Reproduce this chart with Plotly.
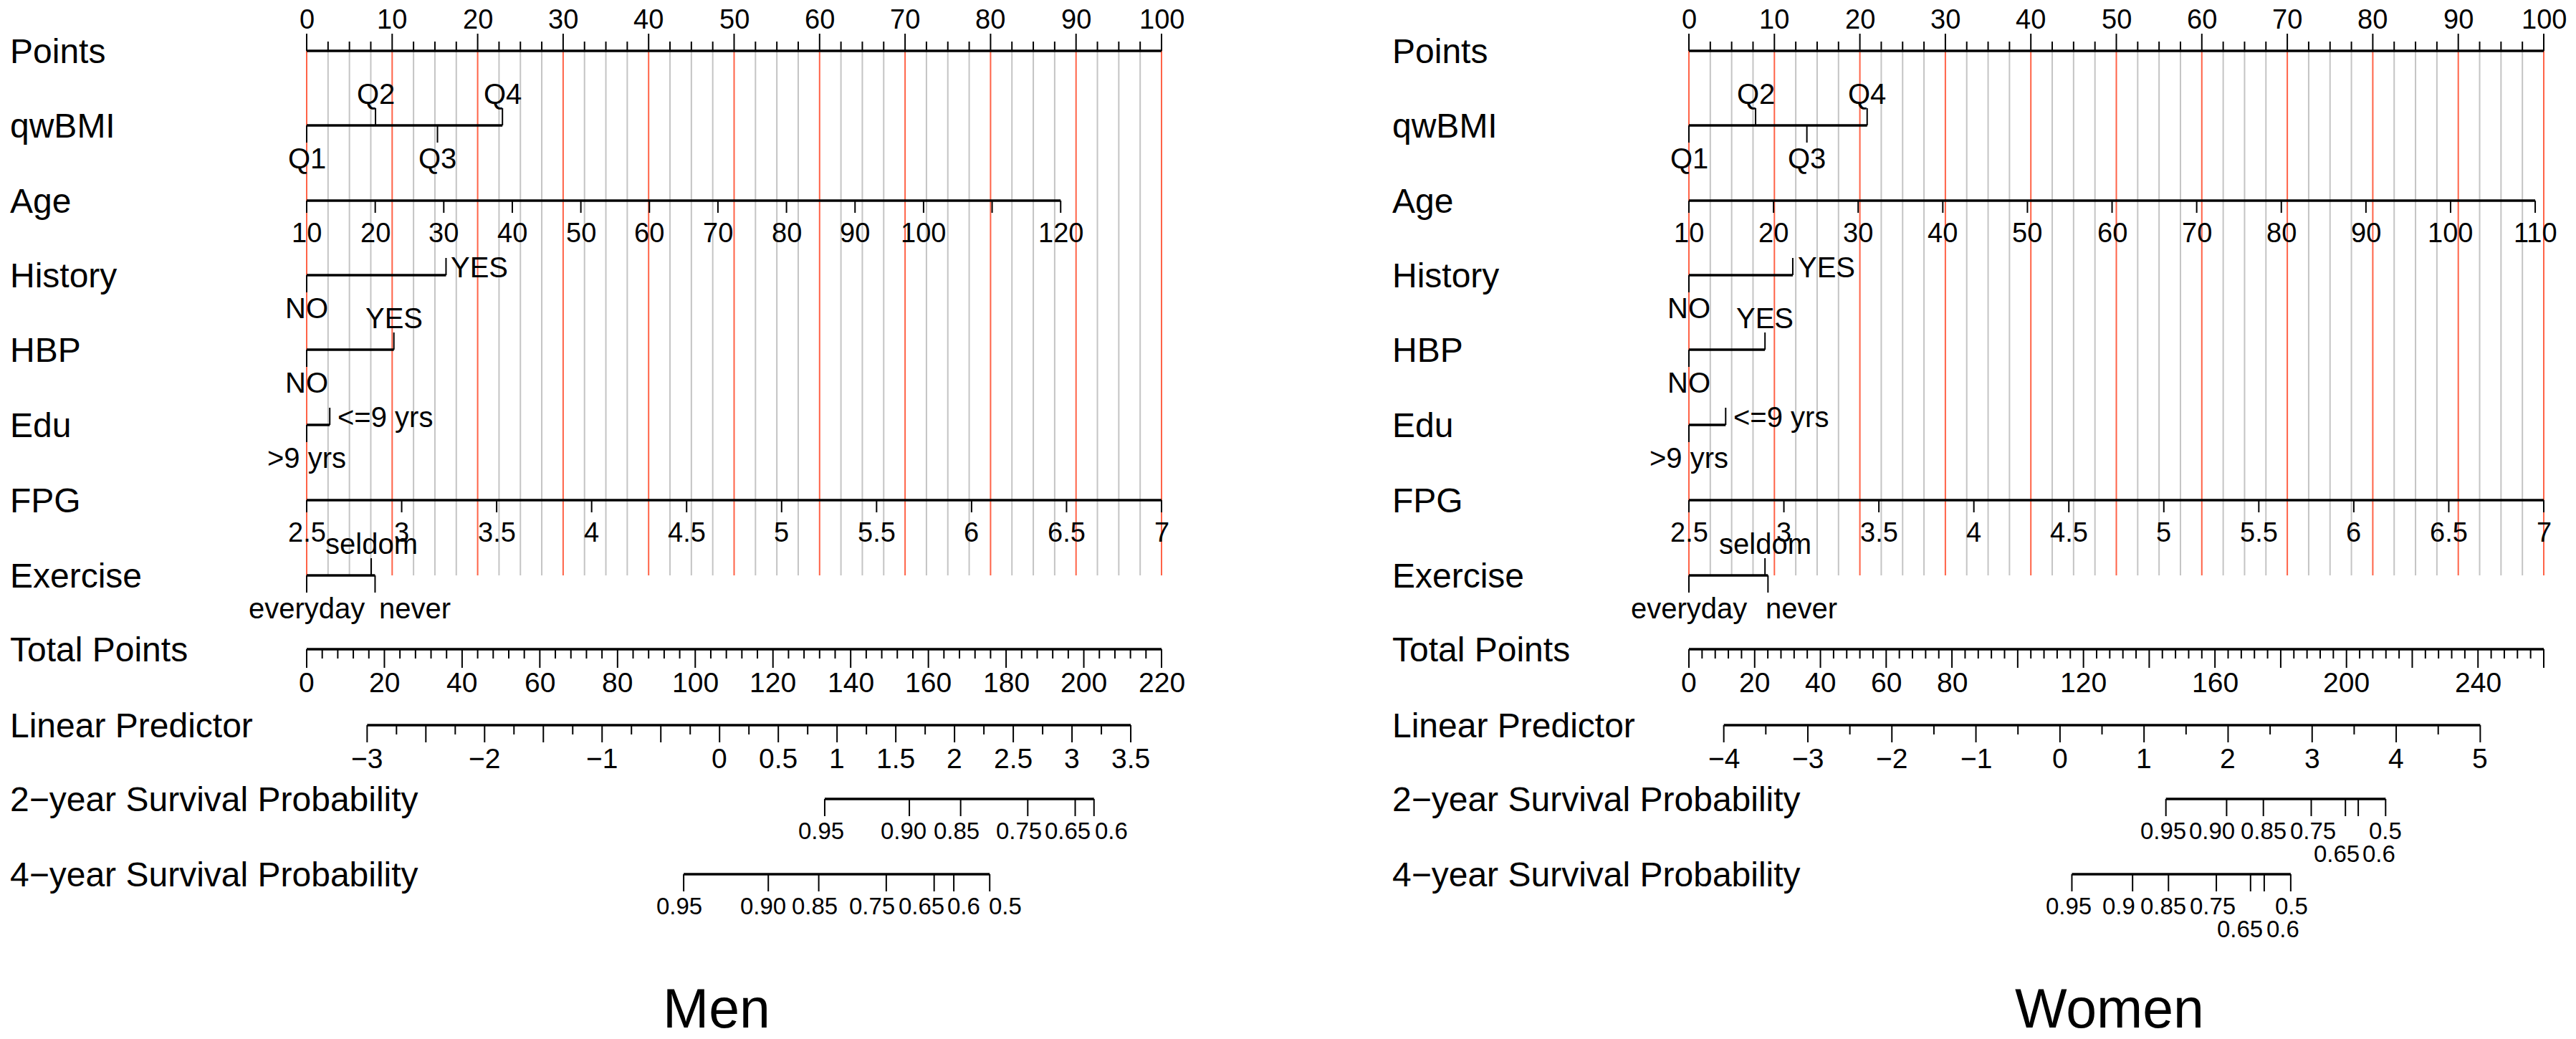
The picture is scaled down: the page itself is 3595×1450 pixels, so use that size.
import plotly.graph_objects as go

# ---------------- values ----------------
points_labels = [0, 10, 20, 30, 40, 50, 60, 70, 80, 90, 100]

fpg_ticks = [2.5, 3, 3.5, 4, 4.5, 5, 5.5, 6, 6.5, 7]
fpg_labels = ["2.5", "3", "3.5", "4", "4.5", "5", "5.5", "6", "6.5", "7"]

# Men
men_qwbmi_levels = ["Q1", "Q2", "Q3", "Q4"]
men_qwbmi_points = [0, 8.05, 15.3, 22.9]
men_age_ticks = [10, 20, 30, 40, 50, 60, 70, 80, 90, 100, 110, 120]
men_age_labels = ["10", "20", "30", "40", "50", "60", "70", "80", "90", "100", "", "120"]
men_age_points = [0, 88.2]          # points at youngest / oldest tick
men_history_levels = ["NO", "YES"]
men_history_points = [0, 16.3]
men_hbp_levels = ["NO", "YES"]
men_hbp_points = [0, 10.2]
men_edu_levels = [">9 yrs", "<=9 yrs"]
men_edu_points = [0, 2.7]
men_fpg_points = [0, 100]
men_exercise_levels = ["everyday", "seldom", "never"]
men_exercise_points = [0, 7.55, 8.0]
men_total_max = 220
men_total_labels = [0, 20, 40, 60, 80, 100, 120, 140, 160, 180, 200, 220]
men_lp_ticks = [-3, -2.5, -2, -1.5, -1, -0.5, 0, 0.5, 1, 1.5, 2, 2.5, 3, 3.5]
men_lp_labels = ["−3", "", "−2", "", "−1", "", "0", "0.5", "1", "1.5", "2", "2.5", "3", "3.5"]
men_lp_minor = 0.25
men_lp_points = [7.07, 96.4]        # points at first / last LP tick
men_surv2_labels = ["0.95", "0.90", "0.85", "0.75", "0.65", "0.6"]
men_surv2_points = [60.6, 70.5, 76.5, 84.35, 89.9, 92.1]
men_surv4_labels = ["0.95", "0.90", "0.85", "0.75", "0.65", "0.6", "0.5"]
men_surv4_points = [44.1, 54.0, 59.9, 67.8, 73.4, 75.7, 79.9]

# Women
women_qwbmi_levels = ["Q1", "Q2", "Q3", "Q4"]
women_qwbmi_points = [0, 7.8, 13.8, 20.85]
women_age_ticks = [10, 20, 30, 40, 50, 60, 70, 80, 90, 100, 110]
women_age_labels = ["10", "20", "30", "40", "50", "60", "70", "80", "90", "100", "110"]
women_age_points = [0, 99.0]
women_history_levels = ["NO", "YES"]
women_history_points = [0, 12.15]
women_hbp_levels = ["NO", "YES"]
women_hbp_points = [0, 8.9]
women_edu_levels = [">9 yrs", "<=9 yrs"]
women_edu_points = [0, 4.3]
women_fpg_points = [0, 100]
women_exercise_levels = ["everyday", "seldom", "never"]
women_exercise_points = [0, 8.9, 9.25]
women_total_max = 260
women_total_labels = [0, 20, 40, 60, 80, 120, 160, 200, 240]
women_lp_ticks = [-4, -3, -2, -1, 0, 1, 2, 3, 4, 5]
women_lp_labels = ["−4", "−3", "−2", "−1", "0", "1", "2", "3", "4", "5"]
women_lp_minor = 0.5
women_lp_points = [4.08, 92.57]
women_surv2_labels = ["0.95", "0.90", "0.85", "0.75", "0.65", "0.6", "0.5"]
women_surv2_points = [55.8, 62.9, 67.2, 72.8, 76.8, 78.3, 81.5]
women_surv4_labels = ["0.95", "0.9", "0.85", "0.75", "0.65", "0.6", "0.5"]
women_surv4_points = [44.8, 51.9, 56.1, 61.7, 65.7, 67.3, 70.4]

row_names = ["Points", "qwBMI", "Age", "History", "HBP", "Edu", "FPG", "Exercise",
             "Total Points", "Linear Predictor", "2−year Survival Probability",
             "4−year Survival Probability"]

# ---------------- layout (screen pixels) ----------------
W, H = 3595, 1450
ROW_Y = [71, 175, 280, 384, 488, 593, 698, 803, 906, 1012, 1115, 1220]
PX_PER_PT = 11.93
ZERO_PX = {"x": 428, "x2": 2357}
LABEL_PX = {"x": 12, "x2": 1941}
TITLE_PX = {"x": 1000, "x2": 2944}
FONT = "Liberation Sans, Arial, Helvetica, sans-serif"
RED = "#ff6347"
GREY = "#c4c4c4"

# where R spread out the crowded labels (points units) and which ones sit on a 2nd line
SURV_LABEL_AT = {
    "x": ([60.2, 69.8, 76.0, 83.3, 89.0, 94.1],
          [43.6, 53.4, 59.4, 66.1, 71.9, 76.9, 81.7]),
    "x2": ([55.5, 61.2, 67.2, 73.0, 75.8, 80.7, 81.5],
           [44.4, 50.3, 55.5, 61.3, 64.5, 69.5, 70.5]),
}
SURV_LOW = {"x": [], "x2": ["0.65", "0.6"]}
NEVER_SHIFT = {"x": 4, "x2": -5}

fig = go.Figure()
annotations = []


def text(ax, x, y, s, size, anchor="center", xshift=0):
    annotations.append(dict(x=x, y=y, xref=ax, yref="y", text=s, showarrow=False,
                            xanchor=anchor, yanchor="middle", xshift=xshift,
                            font=dict(family=FONT, size=size, color="black")))


def esc(s):
    return s.replace("<", "&lt;").replace(">", "&gt;")


def draw_panel(ax, title, d):
    main_x, main_y = [], []
    tick_x, tick_y = [], []
    red_x, red_y, grey_x, grey_y = [], [], [], []

    def seg(xs, ys, x0, y0, x1, y1):
        xs.extend([x0, x1, None])
        ys.extend([y0, y1, None])

    # grid between Points and Exercise rows
    for k in range(41):
        p = k * 2.5
        if k % 4 == 0:
            seg(red_x, red_y, p, ROW_Y[0], p, ROW_Y[7])
        else:
            seg(grey_x, grey_y, p, ROW_Y[0], p, ROW_Y[7])

    # Points
    y = ROW_Y[0]
    seg(main_x, main_y, 0, y, 100, y)
    for k in range(41):
        p = k * 2.5
        seg(tick_x, tick_y, p, y, p, y - (24 if k % 4 == 0 else 13))
    for v in points_labels:
        text(ax, v, y - 44, str(v), 38)

    # categorical rows
    def categorical(row, levels, pts, special):
        y = ROW_Y[row]
        seg(main_x, main_y, min(pts), y, max(pts), y)
        order = sorted(range(len(pts)), key=lambda i: pts[i])
        for n, i in enumerate(order):
            up = n % 2 == 1
            seg(tick_x, tick_y, pts[i], y, pts[i], y - 24 if up else y + 24)
            lab = levels[i]
            if lab in special:
                dy, shift = special[lab]
                text(ax, pts[i], y + dy, esc(lab), 40, "left", shift)
            else:
                text(ax, pts[i], y - 44 if up else y + 46, esc(lab), 40)

    categorical(1, d["qwbmi_levels"], d["qwbmi_points"], {})
    categorical(3, d["history_levels"], d["history_points"], {"YES": (-11, 5)})
    categorical(4, d["hbp_levels"], d["hbp_points"], {})
    categorical(5, d["edu_levels"], d["edu_points"], {"<=9 yrs": (-11, 9)})
    categorical(7, d["exercise_levels"], d["exercise_points"], {"never": (46, NEVER_SHIFT[ax])})

    # continuous rows
    def continuous(row, ticks, labels, p0, p1, tlen, size, off):
        y = ROW_Y[row]
        t0, t1 = ticks[0], ticks[-1]
        seg(main_x, main_y, p0, y, p1, y)
        for t, lab in zip(ticks, labels):
            p = p0 + (t - t0) / (t1 - t0) * (p1 - p0)
            seg(tick_x, tick_y, p, y, p, y + tlen)
            if lab:
                text(ax, p, y + off, lab, size)

    a0, a1 = d["age_points"]
    continuous(2, d["age_ticks"], d["age_labels"], a0, a1, 17, 38, 45)
    f0, f1 = d["fpg_points"]
    continuous(6, fpg_ticks, fpg_labels, f0, f1, 17, 38, 45)

    # Total Points
    y = ROW_Y[8]
    tmax = d["total_max"]
    seg(main_x, main_y, 0, y, 100, y)
    for v in range(0, tmax + 1, 4):
        p = v / tmax * 100
        seg(tick_x, tick_y, p, y, p, y + (26 if v % 20 == 0 else 13))
    for v in d["total_labels"]:
        text(ax, v / tmax * 100, y + 46, str(v), 39)

    # Linear predictor
    y = ROW_Y[9]
    lp = d["lp_ticks"]
    l0, l1 = d["lp_points"]
    scale = (l1 - l0) / (lp[-1] - lp[0])
    seg(main_x, main_y, l0, y, l1, y)
    n_minor = int(round((lp[-1] - lp[0]) / d["lp_minor"]))
    for k in range(n_minor + 1):
        v = lp[0] + k * d["lp_minor"]
        p = l0 + (v - lp[0]) * scale
        major = any(abs(v - t) < 1e-9 for t in lp)
        seg(tick_x, tick_y, p, y, p, y + (24 if major else 13))
    for t, lab in zip(lp, d["lp_labels"]):
        if lab:
            text(ax, l0 + (t - lp[0]) * scale, y + 46, lab, 39)

    # survival rows
    for j, (row, labs, pts) in enumerate([(10, d["s2_labels"], d["s2_points"]),
                                          (11, d["s4_labels"], d["s4_points"])]):
        y = ROW_Y[row]
        seg(main_x, main_y, min(pts), y, max(pts), y)
        for lab, p, lx in zip(labs, pts, SURV_LABEL_AT[ax][j]):
            seg(tick_x, tick_y, p, y, p, y + 24)
            text(ax, lx, y + (76 if lab in SURV_LOW[ax] else 44), lab, 33)

    # row names and title
    for name, y in zip(row_names, ROW_Y):
        annotations.append(dict(x=LABEL_PX[ax] / W, y=y, xref="paper", yref="y",
                                text=name, showarrow=False, xanchor="left", yanchor="middle",
                                font=dict(family=FONT, size=48, color="black")))
    annotations.append(dict(x=TITLE_PX[ax] / W, y=1407, xref="paper", yref="y",
                            text=title, showarrow=False, xanchor="center", yanchor="middle",
                            font=dict(family=FONT, size=77, color="black")))

    for xs, ys, col, w in [(grey_x, grey_y, GREY, 2), (red_x, red_y, RED, 2),
                           (tick_x, tick_y, "black", 2), (main_x, main_y, "black", 3.3)]:
        fig.add_trace(go.Scatter(x=xs, y=ys, mode="lines", xaxis=ax, yaxis="y",
                                 line=dict(color=col, width=w), hoverinfo="skip",
                                 showlegend=False))


men = dict(qwbmi_levels=men_qwbmi_levels, qwbmi_points=men_qwbmi_points,
           age_ticks=men_age_ticks, age_labels=men_age_labels, age_points=men_age_points,
           history_levels=men_history_levels, history_points=men_history_points,
           hbp_levels=men_hbp_levels, hbp_points=men_hbp_points,
           edu_levels=men_edu_levels, edu_points=men_edu_points,
           fpg_points=men_fpg_points,
           exercise_levels=men_exercise_levels, exercise_points=men_exercise_points,
           total_max=men_total_max, total_labels=men_total_labels,
           lp_ticks=men_lp_ticks, lp_labels=men_lp_labels, lp_minor=men_lp_minor,
           lp_points=men_lp_points,
           s2_labels=men_surv2_labels, s2_points=men_surv2_points,
           s4_labels=men_surv4_labels, s4_points=men_surv4_points)

women = dict(qwbmi_levels=women_qwbmi_levels, qwbmi_points=women_qwbmi_points,
             age_ticks=women_age_ticks, age_labels=women_age_labels, age_points=women_age_points,
             history_levels=women_history_levels, history_points=women_history_points,
             hbp_levels=women_hbp_levels, hbp_points=women_hbp_points,
             edu_levels=women_edu_levels, edu_points=women_edu_points,
             fpg_points=women_fpg_points,
             exercise_levels=women_exercise_levels, exercise_points=women_exercise_points,
             total_max=women_total_max, total_labels=women_total_labels,
             lp_ticks=women_lp_ticks, lp_labels=women_lp_labels, lp_minor=women_lp_minor,
             lp_points=women_lp_points,
             s2_labels=women_surv2_labels, s2_points=women_surv2_points,
             s4_labels=women_surv4_labels, s4_points=women_surv4_points)

draw_panel("x", "Men", men)
draw_panel("x2", "Women", women)


def xrange(ax, d0, d1):
    return [(d0 * W - ZERO_PX[ax]) / PX_PER_PT, (d1 * W - ZERO_PX[ax]) / PX_PER_PT]


fig.update_layout(
    width=W, height=H, autosize=False,
    margin=dict(l=0, r=0, t=0, b=0, pad=0),
    paper_bgcolor="white", plot_bgcolor="white",
    xaxis=dict(domain=[0, 0.5], range=xrange("x", 0, 0.5), visible=False, anchor="y"),
    xaxis2=dict(domain=[0.5, 1], range=xrange("x2", 0.5, 1), visible=False, anchor="y"),
    yaxis=dict(domain=[0, 1], range=[H, 0], visible=False),
    annotations=annotations,
)

# drop the browser's default page margin so the figure sits at the window's corner
fig.write_html("out.html", config={"displayModeBar": False},
               post_script="document.body.style.margin='0';")
